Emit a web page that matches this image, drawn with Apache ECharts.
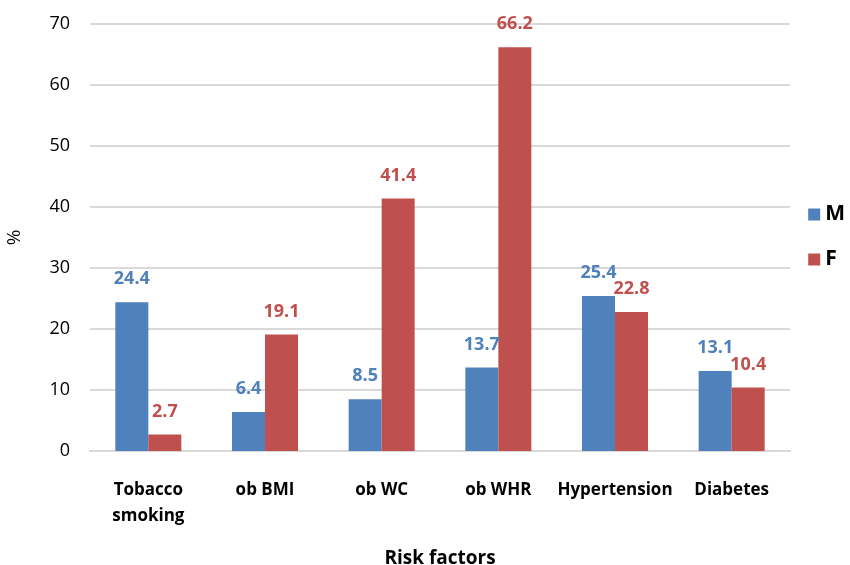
<!DOCTYPE html>
<html><head><meta charset="utf-8">
<script src="https://cdn.jsdelivr.net/npm/echarts@6/dist/echarts.min.js"></script>
<style>html,body{margin:0;padding:0;background:#fff}#c{width:850px;height:565px}</style>
</head><body><div id="c"></div>
<script>
const categories = ['Tobacco\nsmoking', 'ob BMI', 'ob WC', 'ob WHR', 'Hypertension', 'Diabetes'];
const maleValues = [24.4, 6.4, 8.5, 13.7, 25.4, 13.1];
const femaleValues = [2.7, 19.1, 41.4, 66.2, 22.8, 10.4];
const yTicks = [0, 10, 20, 30, 40, 50, 60, 70];
const seriesNames = ['M', 'F'];

const FONT = '"Open Sans", "Noto Sans", sans-serif';
const BLUE = '#4F81BD', RED = '#C0504D';
const chart = echarts.init(document.getElementById('c'), null, {renderer: 'canvas'});
function lbl(color) {
  return {show: true, position: 'top', distance: 14, color: color, fontFamily: FONT,
    fontWeight: 'bold', fontSize: 18};
}
chart.setOption({
  animation: false,
  backgroundColor: '#fff',
  grid: {left: 90, right: 60, top: 24, bottom: 114, containLabel: false, outerBoundsMode: 'none'},
  legend: {
    orient: 'vertical', right: 0, top: 199, itemGap: 24,
    itemWidth: 12, itemHeight: 12, icon: 'rect',
    textStyle: {fontFamily: FONT, fontWeight: 'bold', fontSize: 21, color: '#000'},
    data: seriesNames
  },
  xAxis: {
    type: 'category', data: categories,
    axisLine: {show: true, lineStyle: {color: '#d9d9d9', width: 2}},
    axisTick: {show: false},
    axisLabel: {fontFamily: FONT, fontWeight: 'bold', fontSize: 17, color: '#000', margin: 26, lineHeight: 26, interval: 0},
    name: 'Risk factors', nameLocation: 'middle', nameGap: 98,
    nameTextStyle: {fontFamily: FONT, fontWeight: 'bold', fontSize: 19, color: '#000'}
  },
  yAxis: {
    type: 'value', min: yTicks[0], max: yTicks[yTicks.length - 1], interval: 10,
    axisLine: {show: false}, axisTick: {show: false},
    splitLine: {lineStyle: {color: '#d9d9d9', width: 2}},
    axisLabel: {fontFamily: FONT, fontSize: 18, color: '#000', margin: 20},
    name: '%', nameLocation: 'middle', nameGap: 66, nameRotate: 90,
    nameTextStyle: {fontFamily: FONT, fontSize: 19, color: '#000'}
  },
  series: [
    {name: seriesNames[0], type: 'bar', data: maleValues, barWidth: 33, barGap: '0%',
     itemStyle: {color: BLUE}, label: lbl(BLUE)},
    {name: seriesNames[1], type: 'bar', data: femaleValues, barWidth: 33, barGap: '0%',
     itemStyle: {color: RED}, label: lbl(RED)}
  ]
});
</script></body></html>
